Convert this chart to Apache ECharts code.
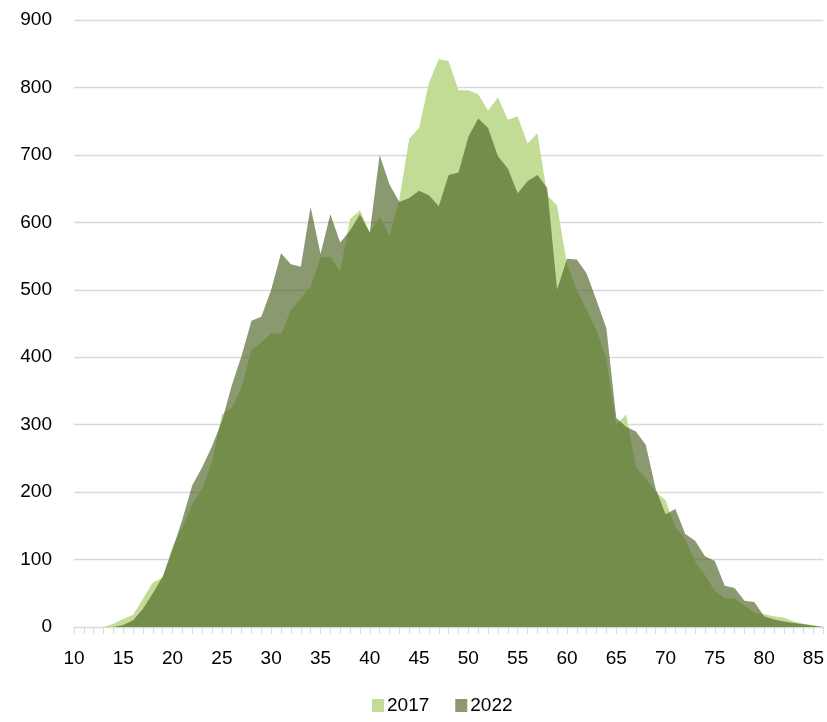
<!DOCTYPE html>
<html>
<head>
<meta charset="utf-8">
<script src="https://cdn.jsdelivr.net/npm/echarts@6/dist/echarts.min.js"></script>
<style>
  html, body { margin: 0; padding: 0; background: #ffffff; }
  #chart { width: 827px; height: 722px; }
</style>
</head>
<body>
<div id="chart"></div>
<script>
const ages = [
  '10','11','12','13','14','15','16','17','18','19',
  '20','21','22','23','24','25','26','27','28','29',
  '30','31','32','33','34','35','36','37','38','39',
  '40','41','42','43','44','45','46','47','48','49',
  '50','51','52','53','54','55','56','57','58','59',
  '60','61','62','63','64','65','66','67','68','69',
  '70','71','72','73','74','75','76','77','78','79',
  '80','81','82','83','84','85','86'
];
const values2017 = [
  0,0,0,0,5,12,18,42,66,73,
  120,148,182,205,245,315,325,355,410,422,
  436,434,470,487,505,548,549,527,605,618,
  585,608,580,634,724,740,807,842,839,796,
  796,790,766,785,752,757,717,732,640,625,
  538,500,470,440,397,300,315,237,220,200,
  188,148,130,97,77,53,43,42,32,21,
  19,16,14,8,5,3,0
];
const values2022 = [
  0,0,0,0,0,3,10,27,50,75,
  115,160,210,237,268,305,358,402,454,460,
  500,554,538,534,623,553,612,570,588,612,
  585,700,656,630,636,647,640,624,670,674,
  727,754,740,698,680,643,661,670,651,500,
  546,545,524,484,443,310,297,290,270,205,
  167,175,138,128,105,98,61,58,39,37,
  16,11,8,6,4,2,0
];
const seriesNames = ['2017', '2022'];
const yTicks = { min: 0, max: 900, interval: 100 };

const FONT = 'Liberation Sans, Arial, sans-serif';
const chart = echarts.init(document.getElementById('chart'), null, { renderer: 'canvas' });
chart.setOption({
  animation: false,
  backgroundColor: '#ffffff',
  grid: { left: 74, right: 1, top: 20, bottom: 95, containLabel: false },
  legend: {
    bottom: 2,
    left: 367,
    itemWidth: 12,
    itemHeight: 13,
    itemGap: 26,
    icon: 'rect',
    textStyle: { fontFamily: FONT, fontSize: 19, color: '#000000', padding: [0, 0, 0, -2] },
    data: seriesNames
  },
  xAxis: {
    type: 'category',
    data: ages,
    boundaryGap: false,
    axisLine: { lineStyle: { color: '#d9d9d9', width: 1 } },
    axisTick: { show: true, interval: 0, length: 7, lineStyle: { color: '#d9d9d9' } },
    axisLabel: { interval: 4, margin: 22, fontFamily: FONT, fontSize: 19, color: '#000000' },
    splitLine: { show: false }
  },
  yAxis: {
    type: 'value',
    min: yTicks.min,
    max: yTicks.max,
    interval: yTicks.interval,
    axisLine: { show: false },
    axisTick: { show: false },
    axisLabel: { margin: 22, fontFamily: FONT, fontSize: 19, color: '#000000' },
    splitLine: { lineStyle: { color: '#d9d9d9', width: 1.3 } }
  },
  series: [
    {
      name: seriesNames[0],
      type: 'line',
      data: values2017,
      showSymbol: false,
      symbol: 'none',
      lineStyle: { width: 0, opacity: 0 },
      itemStyle: { color: '#c2dc96' },
      areaStyle: { color: '#c2dc96', opacity: 1 },
      z: 2
    },
    {
      name: seriesNames[1],
      type: 'line',
      data: values2022,
      showSymbol: false,
      symbol: 'none',
      lineStyle: { width: 0, opacity: 0 },
      itemStyle: { color: 'rgba(75,98,35,0.65)' },
      areaStyle: { color: 'rgba(75,98,35,0.65)', opacity: 1 },
      z: 3
    }
  ]
});
</script>
</body>
</html>
